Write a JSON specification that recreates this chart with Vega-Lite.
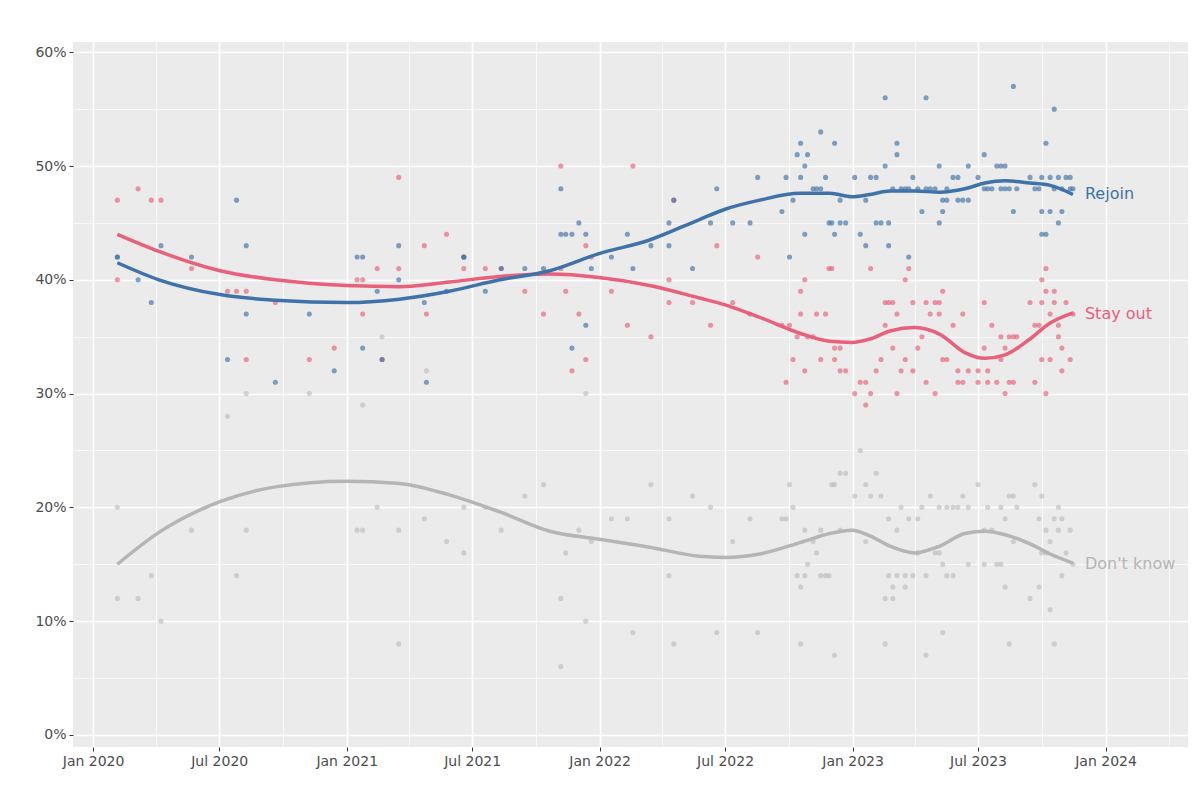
{
"$schema":"https://vega.github.io/schema/vega-lite/v6.json",
"width":1200,"height":800,
"autosize":{"type":"fit","contains":"padding"},
"padding":{"left":34,"top":42,"right":12,"bottom":32},
"background":"white",
"config":{"view":{"fill":"#ebebeb","stroke":null},"font":"DejaVu Sans"},
"datasets":{
"polls":[
{"d":35,"r":42,"s":47,"k":20},{"d":35,"r":42,"s":40,"k":12},{"d":65,"r":40,"s":48,"k":12},{"d":84,"r":38,"s":47,"k":14},{"d":98,"r":43,"s":47,"k":10},{"d":142,"r":42,"s":41,"k":18},{"d":194,"r":33,"s":39,"k":28},{"d":207,"r":47,"s":39,"k":14},{"d":221,"r":37,"s":39,"k":30},{"d":221,"r":43,"s":33,"k":18},{"d":263,"r":31,"s":38},{"d":312,"r":37,"s":33,"k":30},{"d":348,"r":32,"s":34},{"d":381,"r":42,"s":40,"k":18},{"d":389,"r":42,"s":40,"k":29},{"d":389,"r":34,"s":37,"k":18},{"d":410,"r":39,"s":41,"k":20},{"d":417,"r":33,"s":33,"k":35},{"d":441,"r":40,"s":41,"k":18},{"d":441,"r":43,"s":49,"k":8},{"d":478,"r":38,"s":43,"k":19},{"d":481,"r":31,"s":37,"k":32},{"d":510,"r":39,"s":44,"k":17},{"d":535,"r":42,"s":41,"k":20},{"d":535,"r":42,"s":42,"k":16},{"d":566,"r":39,"s":41,"k":20},{"d":589,"r":41,"s":41,"k":18},{"d":623,"r":41,"s":39,"k":21},{"d":650,"r":41,"s":37,"k":22},{"d":675,"r":48,"s":50,"k":12},{"d":675,"r":44,"s":41,"k":6},{"d":682,"r":44,"s":39,"k":16},{"d":691,"r":34,"s":32},{"d":691,"r":44},{"d":701,"r":45,"s":37,"k":18},{"d":711,"r":44,"s":43,"k":30},{"d":711,"r":36,"s":33,"k":10},{"d":719,"r":41,"s":42,"k":17},{"d":748,"r":42,"s":39,"k":19},{"d":771,"r":44,"s":36,"k":19},{"d":779,"r":41,"s":50,"k":9},{"d":805,"r":43,"s":35,"k":22},{"d":831,"r":45,"s":40,"k":14},{"d":831,"r":43,"s":38,"k":19},{"d":838,"r":47,"s":47,"k":8},{"d":865,"r":41,"s":38,"k":21},{"d":891,"r":45,"s":36,"k":20},{"d":900,"r":48,"s":43,"k":9},{"d":923,"r":45,"s":38,"k":17},{"d":948,"r":45,"s":37,"k":19},{"d":959,"r":49,"s":42,"k":9},{"d":994,"r":46,"s":36,"k":19},{"d":1000,"r":49,"s":31,"k":19},{"d":1005,"r":42,"s":36,"k":22},{"d":1010,"r":47,"s":33,"k":20},{"d":1016,"r":51,"s":35,"k":14},{"d":1021,"r":52,"s":37,"k":13},{"d":1021,"r":49,"s":39,"k":8},{"d":1027,"r":50,"s":40,"k":18},{"d":1027,"r":44,"s":32,"k":14},{"d":1031,"r":51,"s":35,"k":15},{"d":1039,"r":48,"s":35,"k":17},{"d":1044,"r":48,"s":37,"k":16},{"d":1050,"r":53,"s":33,"k":18},{"d":1050,"r":48,"k":14},{"d":1057,"r":49,"s":37,"k":14},{"d":1062,"r":45,"s":41,"k":14},{"d":1066,"r":45,"s":41,"k":22},{"d":1070,"r":52,"s":33,"k":7},{"d":1070,"r":44,"s":34,"k":22},{"d":1078,"r":47,"s":32,"k":23},{"d":1078,"r":45,"s":34,"k":18},{"d":1086,"r":45,"s":32,"k":23},{"d":1099,"r":49,"s":30,"k":21},{"d":1107,"r":44,"s":31,"k":25},{"d":1115,"r":47,"s":31,"k":22},{"d":1115,"r":43,"s":29,"k":17},{"d":1122,"r":49,"s":41,"k":21},{"d":1122,"s":30},{"d":1130,"r":45,"s":32,"k":23},{"d":1130,"r":49},{"d":1137,"r":45,"s":33,"k":21},{"d":1143,"r":56,"s":38,"k":8},{"d":1143,"r":50,"s":36,"k":12},{"d":1148,"r":45,"s":38,"k":14},{"d":1148,"r":43,"k":19},{"d":1154,"r":48,"s":38,"k":13},{"d":1154,"s":34,"k":12},{"d":1160,"r":51,"s":37,"k":18},{"d":1160,"r":52,"s":30,"k":14},{"d":1166,"r":48,"s":32,"k":20},{"d":1172,"r":48,"s":40,"k":13},{"d":1172,"s":33,"k":14},{"d":1177,"r":48,"s":41,"k":19},{"d":1177,"r":42},{"d":1183,"r":49,"s":32,"k":14},{"d":1183,"s":38},{"d":1190,"r":48,"s":34,"k":19},{"d":1190,"k":16},{"d":1196,"r":46,"s":35,"k":20},{"d":1202,"r":56,"s":38,"k":7},{"d":1202,"r":48,"s":31,"k":14},{"d":1208,"r":48,"s":37,"k":21},{"d":1215,"r":48,"s":38,"k":16},{"d":1215,"s":30},{"d":1221,"r":50,"s":38,"k":20},{"d":1221,"r":45,"s":37,"k":16},{"d":1226,"r":46,"s":39,"k":9},{"d":1226,"r":47,"s":33,"k":15},{"d":1232,"r":47,"s":33,"k":14},{"d":1232,"r":48,"k":20},{"d":1241,"r":49,"s":36,"k":14},{"d":1241,"k":20},{"d":1248,"r":47,"s":31,"k":20},{"d":1248,"r":49,"s":32},{"d":1255,"r":47,"s":37,"k":21},{"d":1255,"s":31},{"d":1263,"r":47,"s":32,"k":15},{"d":1263,"r":50,"k":20},{"d":1277,"r":49,"s":31,"k":22},{"d":1277,"s":32},{"d":1286,"r":48,"s":34,"k":15},{"d":1286,"r":51,"s":38,"k":18},{"d":1291,"r":48,"s":31,"k":20},{"d":1291,"s":32},{"d":1297,"r":48,"s":36,"k":18},{"d":1304,"r":50,"s":31,"k":15},{"d":1310,"r":48,"s":33,"k":15},{"d":1310,"r":50,"s":35,"k":20},{"d":1316,"r":50,"s":30,"k":13},{"d":1316,"r":48,"s":34,"k":19},{"d":1322,"r":48,"s":35,"k":21},{"d":1322,"s":31,"k":8},{"d":1328,"r":57,"s":31,"k":21},{"d":1328,"r":46,"s":35,"k":17},{"d":1333,"r":48,"s":35,"k":20},{"d":1352,"r":49,"s":38,"k":12},{"d":1359,"r":48,"s":31,"k":22},{"d":1359,"s":36},{"d":1365,"r":48,"s":36,"k":13},{"d":1365,"k":19},{"d":1369,"r":49,"s":40,"k":16},{"d":1369,"r":46,"s":38,"k":21},{"d":1369,"r":44,"s":33},{"d":1375,"r":52,"s":41,"k":16},{"d":1375,"r":44,"s":30,"k":18},{"d":1375,"s":39},{"d":1381,"r":46,"s":37,"k":11},{"d":1381,"r":49,"s":33,"k":17},{"d":1387,"r":55,"s":38,"k":8},{"d":1387,"r":48,"s":39,"k":19},{"d":1393,"r":45,"s":36,"k":18},{"d":1393,"r":49,"s":35,"k":20},{"d":1398,"r":46,"s":34,"k":19},{"d":1398,"r":48,"s":32,"k":14},{"d":1404,"r":49,"s":38,"k":16},{"d":1410,"r":48,"s":33,"k":18},{"d":1410,"r":49},{"d":1414,"r":48,"s":37,"k":15}
],
"trend":[
{"d":35,"r":41.5,"s":44,"k":15},{"d":95,"r":40,"s":42.5,"k":17.8},{"d":183,"r":38.7,"s":40.8,"k":20.5},{"d":263,"r":38.2,"s":40,"k":21.8},{"d":365,"r":38,"s":39.5,"k":22.3},{"d":442,"r":38.3,"s":39.4,"k":22.1},{"d":514,"r":39,"s":39.8,"k":21.1},{"d":587,"r":40,"s":40.3,"k":19.6},{"d":659,"r":40.8,"s":40.5,"k":17.9},{"d":730,"r":42.3,"s":40.2,"k":17.2},{"d":803,"r":43.5,"s":39.5,"k":16.5},{"d":875,"r":45.3,"s":38.4,"k":15.7},{"d":912,"r":46.2,"s":37.8,"k":15.6},{"d":962,"r":47,"s":36.7,"k":15.9},{"d":1020,"r":47.6,"s":35.3,"k":16.9},{"d":1063,"r":47.6,"s":34.6,"k":17.7},{"d":1095,"r":47.3,"s":34.5,"k":18},{"d":1121,"r":47.5,"s":34.8,"k":17.5},{"d":1150,"r":47.8,"s":35.5,"k":16.6},{"d":1186,"r":47.8,"s":35.8,"k":16},{"d":1222,"r":47.7,"s":35.2,"k":16.6},{"d":1258,"r":48,"s":33.6,"k":17.7},{"d":1287,"r":48.5,"s":33.1,"k":17.9},{"d":1316,"r":48.7,"s":33.4,"k":17.6},{"d":1352,"r":48.5,"s":34.8,"k":16.8},{"d":1381,"r":48.3,"s":36.2,"k":15.9},{"d":1414,"r":47.5,"s":37.1,"k":15.1}
],
"labels":[{"d":1414,"v":47.5,"t":"Rejoin","c":"#3f72a8"},{"d":1414,"v":37,"t":"Stay out","c":"#e8607a"},{"d":1414,"v":15,"t":"Don't know","c":"#b5b5b5"}]
},
"encoding":{
"x":{"field":"d","type":"quantitative","scale":{"domain":[-29,1580],"nice":false,"zero":false},"title":null,
"axis":{"values":[0,91,182,274,366,456,547,639,731,821,912,1004,1096,1186,1277,1369,1461,1552],
"labelExpr":"indexof([0,182,366,547,731,912,1096,1277,1461],datum.value)>=0 ? ['Jan 2020','Jul 2020','Jan 2021','Jul 2021','Jan 2022','Jul 2022','Jan 2023','Jul 2023','Jan 2024'][indexof([0,182,366,547,731,912,1096,1277,1461],datum.value)] : ''",
"gridColor":"white","gridWidth":{"condition":{"test":"indexof([0,182,366,547,731,912,1096,1277,1461],datum.value)>=0","value":1.6},"value":0.7},
"tickColor":{"condition":{"test":"indexof([0,182,366,547,731,912,1096,1277,1461],datum.value)>=0","value":"#333"},"value":"transparent"},
"domain":false,"labelFontSize":14,"labelColor":"#4d4d4d","tickSize":4,"labelPadding":3,"labelFlush":false}}
},
"layer":[
{"data":{"name":"polls"},"mark":{"type":"point","filled":true,"size":26,"opacity":0.55,"color":"#b5b5b5"},
 "encoding":{"y":{"field":"k","type":"quantitative","scale":{"domain":[-1.06,60.9],"nice":false,"zero":false},"title":null,
  "axis":{"values":[0,5,10,15,20,25,30,35,40,45,50,55,60],"labelExpr":"datum.value%10==0 ? datum.value+'%' : ''",
  "gridColor":"white","gridWidth":{"condition":{"test":"datum.value%10==0","value":1.6},"value":0.7},
  "tickColor":{"condition":{"test":"datum.value%10==0","value":"#333"},"value":"transparent"},
  "domain":false,"labelFontSize":14,"labelColor":"#4d4d4d","tickSize":4,"labelPadding":3}}}},
{"data":{"name":"polls"},"mark":{"type":"point","filled":true,"size":26,"opacity":0.65,"color":"#e8607a"},"encoding":{"y":{"field":"s","type":"quantitative"}}},
{"data":{"name":"polls"},"mark":{"type":"point","filled":true,"size":26,"opacity":0.65,"color":"#3f72a8"},"encoding":{"y":{"field":"r","type":"quantitative"}}},
{"data":{"name":"trend"},"mark":{"type":"line","strokeWidth":3.5,"color":"#b5b5b5","interpolate":"monotone"},"encoding":{"y":{"field":"k","type":"quantitative"}}},
{"data":{"name":"trend"},"mark":{"type":"line","strokeWidth":3.5,"color":"#e8607a","interpolate":"monotone"},"encoding":{"y":{"field":"s","type":"quantitative"}}},
{"data":{"name":"trend"},"mark":{"type":"line","strokeWidth":3.5,"color":"#3f72a8","interpolate":"monotone"},"encoding":{"y":{"field":"r","type":"quantitative"}}},
{"data":{"name":"labels"},"mark":{"type":"text","align":"left","dx":12,"fontSize":16},"encoding":{"y":{"field":"v","type":"quantitative"},"text":{"field":"t"},"color":{"field":"c","type":"nominal","scale":null}}}
]
}
